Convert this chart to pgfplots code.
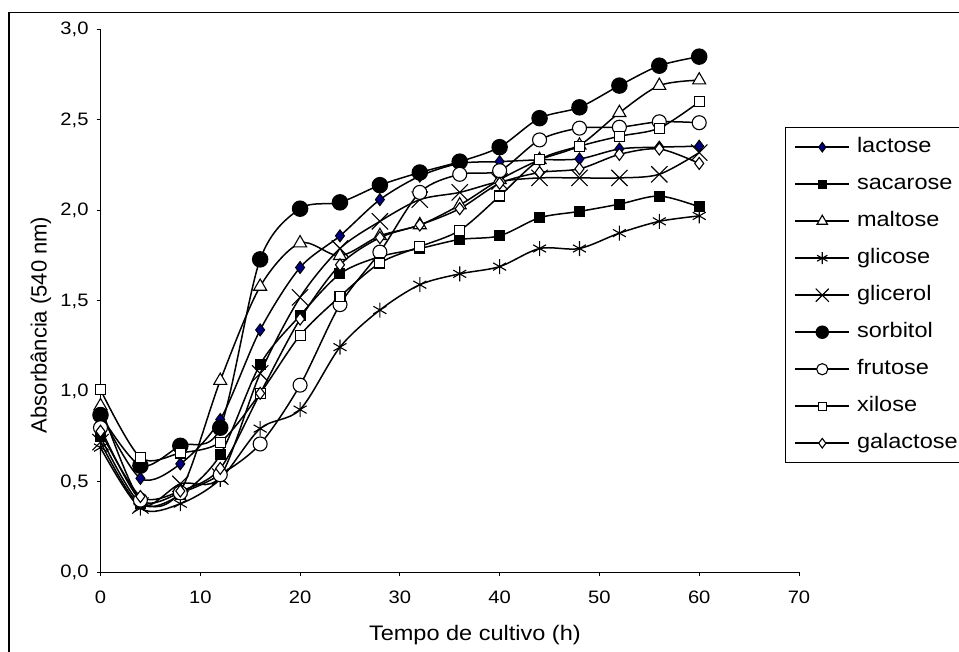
\documentclass[border=0pt]{standalone}
\usepackage{fontspec}
\setmainfont{Liberation Sans}[FakeStretch=1.12]
\newfontfamily\plainsans{Liberation Sans}
\usepackage{pgfplots}
\pgfplotsset{compat=1.18}
\definecolor{navyblue}{RGB}{0,0,128}

\pgfplotstableread{
t lactose sacarose maltose glicose glicerol sorbitol frutose xilose galactose
0  0.88  0.75  0.92  0.69  0.72  0.87  0.80  1.01  0.78
4  0.52  0.38  0.40  0.355 0.37  0.59  0.40  0.635 0.42
8  0.60  0.43  0.45  0.38  0.49  0.70  0.44  0.66  0.45
12 0.845 0.65  1.06  0.515 0.53  0.80  0.54  0.72  0.575
16 1.34  1.15  1.58  0.795 1.10  1.73  0.71  0.99  0.99
20 1.685 1.42  1.82  0.90  1.52  2.01  1.035 1.31  1.40
24 1.86  1.65  1.75  1.245 1.79  2.045 1.48  1.525 1.70
28 2.06  1.745 1.86  1.45  1.94  2.14  1.77  1.71  1.85
32 2.19  1.79  1.92  1.59  2.06  2.21  2.10  1.80  1.92
36 2.26  1.84  2.03  1.65  2.10  2.27  2.20  1.89  2.01
40 2.27  1.86  2.17  1.69  2.16  2.35  2.22  2.08  2.15
44 2.28  1.96  2.28  1.79  2.18  2.51  2.39  2.28  2.21
48 2.285 1.995 2.36  1.79  2.18  2.57  2.455 2.355 2.23
52 2.34  2.035 2.54  1.875 2.18  2.69  2.46  2.41  2.31
56 2.35  2.08  2.69  1.94  2.20  2.80  2.49  2.455 2.34
60 2.355 2.02  2.72  1.97  2.32  2.85  2.485 2.60  2.26
}\datatable

\begin{document}
\begin{tikzpicture}[x=1pt,y=1pt]
\useasboundingbox (0,0) rectangle (959,652);
\draw[line width=1.3pt] (9,639.3) rectangle (990,-30);
\begin{axis}[
  at={(100.5pt,79.5pt)}, anchor=south west,
  scale only axis, width=698.5pt, height=543pt,
  xmin=0, xmax=70, ymin=0, ymax=3,
  axis lines*=left,
  axis line style={black, line width=1pt, -},
  xtick={0,10,...,70}, ytick={0,0.5,...,3},
  tick align=outside, major tick length=4pt,
  tick style={black, line width=1pt},
  /pgf/number format/assume math mode=true,
  tick label style={font=\fontsize{18}{21}\selectfont},
  y tick label style={xshift=-4.5pt, /pgf/number format/.cd, fixed, fixed zerofill, precision=1, use comma},
  x tick label style={yshift=-11pt, /pgf/number format/.cd, fixed, precision=0},
  xlabel={Tempo de cultivo (h)},
  ylabel={Absorbância (540 nm)},
  xlabel style={font=\fontsize{21}{24}\selectfont, at={(0.536,-0.115)}, anchor=center},
  ylabel style={font=\plainsans\fontsize{22}{25}\selectfont, at={(-0.0852,0.456)}, anchor=center},
  legend style={at={(0.98,0.82)}, anchor=north west, draw=black, line width=1pt,
    font=\fontsize{21}{24}\selectfont, inner xsep=9pt, inner ysep=9pt,
    nodes={inner sep=0pt, text height=16pt, text depth=5pt},
    row sep=16pt, column sep=7pt},
  legend cell align=left,
  legend image code/.code={\draw[mark repeat=2,mark phase=2,#1,every mark/.append style={scale=0.8}] plot coordinates {(0pt,0pt)(27pt,0pt)(54pt,0pt)};},
  every axis plot/.append style={black, line width=1.5pt, smooth},
]
\addplot[mark=diamond*, mark size=6, mark options={solid, fill=navyblue, draw=black, line width=1pt}] table[x=t,y=lactose] {\datatable};
\addlegendentry{lactose}
\addplot[mark=square*, mark size=5, mark options={solid, fill=black, line width=1pt}] table[x=t,y=sacarose] {\datatable};
\addlegendentry{sacarose}
\addplot[mark=triangle*, mark size=7.5, mark options={solid, fill=white, draw=black, line width=1.1pt}] table[x=t,y=maltose] {\datatable};
\addlegendentry{maltose}
\addplot[mark=asterisk, mark size=7.5, mark options={solid, line width=1.1pt}] table[x=t,y=glicose] {\datatable};
\addlegendentry{glicose}
\addplot[mark=x, mark size=11.5, mark options={solid, line width=1.1pt}] table[x=t,y=glicerol] {\datatable};
\addlegendentry{glicerol}
\addplot[mark=*, mark size=7.5, mark options={solid, fill=black}] table[x=t,y=sorbitol] {\datatable};
\addlegendentry{sorbitol}
\addplot[mark=*, mark size=7, mark options={solid, fill=white, draw=black, line width=1.1pt}] table[x=t,y=frutose] {\datatable};
\addlegendentry{frutose}
\addplot[mark=square*, mark size=5, mark options={solid, fill=white, draw=black, line width=1.1pt}] table[x=t,y=xilose] {\datatable};
\addlegendentry{xilose}
\addplot[mark=diamond*, mark size=6, mark options={solid, fill=white, draw=black, line width=1.1pt}] table[x=t,y=galactose] {\datatable};
\addlegendentry{galactose}
\end{axis}
\end{tikzpicture}
\end{document}
